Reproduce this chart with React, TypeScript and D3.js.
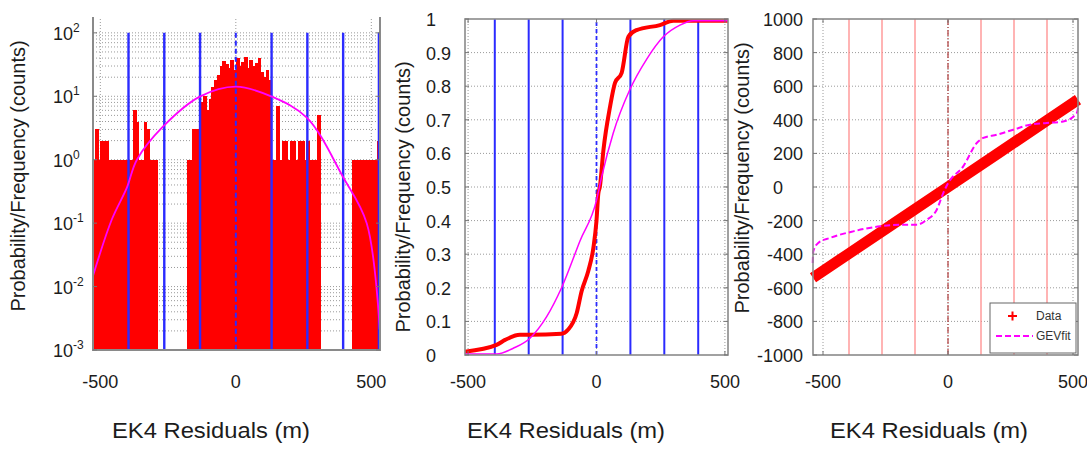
import React, { useRef, useEffect } from 'react';
import * as d3 from 'd3';

const W = 1087;
const H = 452;
const FONT = '"Liberation Sans", Arial, sans-serif';

// histogram of residuals, bins of 10 m starting at -530
const histStart = -530;
const histStep = 10;
const histCounts = [
	1, 3, 1, 2, 2, 2, 1, 1, 1, 1,
	1, 1, 1, 1, 1, 6, 4, 1, 1, 4,
	3, 1, 1, 1, 0, 0, 0, 0, 0, 0,
	0, 0, 0, 0, 0, 1, 1, 3, 3, 2,
	8, 10, 6, 9, 14, 18, 22, 30, 36, 32,
	28, 38, 26, 40, 30, 35, 42, 28, 38, 30,
	33, 40, 24, 20, 26, 18, 1, 1, 7, 1,
	2, 2, 1, 2, 2, 1, 2, 2, 1, 2,
	1, 1, 1, 5, 0, 0, 0, 0, 0, 0,
	0, 0, 0, 0, 0, 0, 1, 1, 1, 1,
	1, 1, 1, 1, 1, 2,
];

// fitted pdf (panel 1)
const pdfX = [-528, -458, -402, -365, -269, -133, 0, 133, 262, 395, 483, 531];
const pdfY = [0.0143, 0.113, 0.362, 1, 3.31, 9.86, 14.2, 9.86, 4.6, 0.54, 0.1, 0.0021];

// empirical cdf (panel 2)
const cdfX = [-512, -389, -356, -298, -259, -136, -111, -77, -58, -32, -12, 0, 7, 13, 27, 53, 72, 98, 124, 156, 247, 299, 512];
const cdfY = [0.01, 0.03, 0.045, 0.06, 0.06, 0.063, 0.075, 0.125, 0.19, 0.25, 0.32, 0.4, 0.48, 0.5, 0.61, 0.74, 0.81, 0.84, 0.947, 0.967, 0.982, 0.995, 0.995];

// fitted cdf (panel 2)
const gevCdfX = [-512, -389, -324, -259, -194, -136, -64, 0, 20, 65, 130, 195, 260, 325, 377, 512];
const gevCdfY = [0.003, 0.003, 0.02, 0.05, 0.114, 0.2, 0.34, 0.46, 0.53, 0.66, 0.79, 0.88, 0.947, 0.982, 0.995, 0.995];

// quantile plot (panel 3)
const qqX = [-540, -400, -200, 0, 200, 400, 520];
const qqY = [-540, -400, -200, 0, 200, 400, 520];
const gevQX = [-541, -539, -519, -472, -379, -272, -179, -125, -85, -45, -19, 1, 61, 115, 141, 195, 261, 328, 395, 461, 515, 521];
const gevQY = [-452, -383, -333, -303, -264, -234, -224, -224, -195, -135, -36, 24, 123, 262, 292, 311, 341, 371, 381, 390, 440, 480];

// sigma marker lines
const sigmaLines = [-396, -264, -132, 132, 264, 396];
const xTicks = [-500, 0, 500];
const pdfTicks = [-3, -2, -1, 0, 1, 2];
const cdfTicks = d3.range(0, 11).map((i) => i / 10);
const qTicks = d3.range(-1000, 1001, 200);

const xTitle = 'EK4 Residuals (m)';
const yTitle = 'Probability/Frequency (counts)';
const legendItems = ['Data', 'GEVfit'];

const GRID = '#9a9a9a';
const FRAME = '#8a8a8a';
const BLUE = '#2b2bff';
const TXT = '#1c1c1c';

type Sel = d3.Selection<SVGSVGElement, unknown, null, undefined>;

const hGrid = (g, vals, x, y) => {
	g.append('g').selectAll('line').data(vals).join('line')
		.attr('x1', x.range()[0]).attr('x2', x.range()[1])
		.attr('y1', (d) => y(d)).attr('y2', (d) => y(d))
		.attr('stroke', GRID).attr('stroke-width', 1).attr('stroke-dasharray', '1 2');
};

const vGrid = (g, vals, x, y) => {
	g.append('g').selectAll('line').data(vals).join('line')
		.attr('x1', (d) => x(d)).attr('x2', (d) => x(d))
		.attr('y1', y.range()[0]).attr('y2', y.range()[1])
		.attr('stroke', GRID).attr('stroke-width', 1).attr('stroke-dasharray', '1 2');
};

// small inward tick marks on the box
const boxTicks = (g, xs, ys, x, y) => {
	const [l, r] = x.range();
	const [b, t] = y.range();
	const p = [];
	ys.forEach((d) => { p.push(`M${ l },${ y(d) }h4`, `M${ r },${ y(d) }h-4`); });
	xs.forEach((d) => { p.push(`M${ x(d) },${ b }v-4`, `M${ x(d) },${ t }v4`); });
	g.append('path').attr('d', p.join('')).attr('stroke', '#777').attr('stroke-width', 1);
};

const labels = (g, x, titleX, titleY, yLabelX, yLabelY) => {
	g.append('g').selectAll('text').data(xTicks).join('text')
		.attr('x', (d) => x(d)).attr('y', 388)
		.attr('text-anchor', 'middle').attr('font-size', 18)
		.attr('font-family', FONT).attr('fill', TXT)
		.text((d) => d);
	g.append('text').attr('x', titleX).attr('y', titleY)
		.attr('text-anchor', 'middle').attr('font-size', 22)
		.attr('textLength', 198).attr('lengthAdjust', 'spacingAndGlyphs')
		.attr('font-family', FONT).attr('fill', TXT)
		.text(xTitle);
	g.append('text')
		.attr('transform', `translate(${ yLabelX },${ yLabelY }) rotate(-90)`)
		.attr('text-anchor', 'middle').attr('font-size', 20)
		.attr('font-family', FONT).attr('fill', TXT)
		.text(yTitle);
};

const drawHist = (svg: Sel) => {
	const x = d3.scaleLinear().domain([-527, 532]).range([93, 380]);
	const y = d3.scaleLog().domain([1e-3, 10 ** 2.25]).range([350, 17]);
	const g = svg.append('g');
	const yTop = y(100);

	const minor = [];
	for (let k = -3; k <= 1; k++) {
		for (let m = 1; m <= 9; m++) minor.push(m * 10 ** k);
	}
	minor.push(100);
	g.append('g').selectAll('line').data(minor).join('line')
		.attr('x1', x.range()[0]).attr('x2', x.range()[1])
		.attr('y1', (d) => y(d)).attr('y2', (d) => y(d))
		.attr('stroke', GRID).attr('stroke-dasharray', '1 2');
	vGrid(g, xTicks, x, y);

	const bins = histCounts
		.map((c, i) => ({ x0: histStart + i * histStep, c }))
		.filter((d) => d.c > 0);
	g.append('g').attr('shape-rendering', 'crispEdges')
		.selectAll('rect').data(bins).join('rect')
		.attr('x', (d) => x(d.x0))
		.attr('width', (d) => x(d.x0 + histStep) - x(d.x0) + 1)
		.attr('y', (d) => y(d.c))
		.attr('height', (d) => y(1e-3) - y(d.c))
		.attr('fill', '#ff0000');

	g.append('g').selectAll('line').data([...sigmaLines, 528]).join('line')
		.attr('x1', (d) => x(d)).attr('x2', (d) => x(d))
		.attr('y1', yTop).attr('y2', y(1e-3))
		.attr('stroke', BLUE).attr('stroke-width', 2.4);
	g.append('line')
		.attr('x1', x(0)).attr('x2', x(0)).attr('y1', yTop).attr('y2', y(1e-3))
		.attr('stroke', BLUE).attr('stroke-width', 2).attr('stroke-dasharray', '5 3');

	const pts = pdfX.map((v, i) => [x(v), y(pdfY[i])] as [number, number]);
	g.append('path').attr('d', d3.line().curve(d3.curveCatmullRom)(pts))
		.attr('fill', 'none').attr('stroke', '#ff00ff').attr('stroke-width', 1.8);

	const [l, r] = x.range();
	const b = y(1e-3);
	g.append('path').attr('d', `M${ l },${ y.range()[1] }V${ b }H${ r }V${ y.range()[1] }`)
		.attr('fill', 'none').attr('stroke', FRAME).attr('stroke-width', 2);
	boxTicks(g, [], pdfTicks.map((d) => 10 ** d), { range: () => [l, r] }, y);

	const tk = g.append('g').selectAll('text').data(pdfTicks).join('text')
		.attr('x', 53).attr('y', (d) => y(10 ** d) + 7)
		.attr('font-size', 18).attr('font-family', FONT).attr('fill', TXT);
	tk.append('tspan').text('10');
	tk.append('tspan').attr('dy', -8).attr('font-size', 12).text((d) => d);

	labels(g, x, 211, 438, 25, 176);
};

const drawCdf = (svg: Sel) => {
	const x = d3.scaleLinear().domain([-512, 512]).range([465, 728]);
	const y = d3.scaleLinear().domain([0, 1]).range([355, 19]);
	const g = svg.append('g');

	hGrid(g, cdfTicks.slice(1, 10), x, y);
	vGrid(g, xTicks, x, y);

	g.append('g').selectAll('line').data(sigmaLines).join('line')
		.attr('x1', (d) => x(d)).attr('x2', (d) => x(d))
		.attr('y1', y(0)).attr('y2', y(1))
		.attr('stroke', BLUE).attr('stroke-width', 2);
	g.append('line')
		.attr('x1', x(0)).attr('x2', x(0)).attr('y1', y(0)).attr('y2', y(1))
		.attr('stroke', BLUE).attr('stroke-width', 1.8).attr('stroke-dasharray', '4 3');

	const line = d3.line().curve(d3.curveMonotoneX);
	g.append('path')
		.attr('d', line(cdfX.map((v, i) => [x(v), y(cdfY[i])] as [number, number])))
		.attr('fill', 'none').attr('stroke', '#ff0000').attr('stroke-width', 4);
	g.append('path')
		.attr('d', line(gevCdfX.map((v, i) => [x(v), y(gevCdfY[i])] as [number, number])))
		.attr('fill', 'none').attr('stroke', '#ff00ff').attr('stroke-width', 1.5);

	g.append('rect').attr('x', x.range()[0]).attr('y', y.range()[1])
		.attr('width', x.range()[1] - x.range()[0]).attr('height', y.range()[0] - y.range()[1])
		.attr('fill', 'none').attr('stroke', FRAME).attr('stroke-width', 1.6);
	boxTicks(g, xTicks, cdfTicks, x, y);

	g.append('g').selectAll('text').data(cdfTicks).join('text')
		.attr('x', 426).attr('y', (d) => y(d) + 7)
		.attr('font-size', 18).attr('font-family', FONT).attr('fill', TXT)
		.text((d) => d3.format('~g')(d));

	labels(g, x, 566, 438, 410, 197);
};

const drawQq = (svg: Sel) => {
	const x = d3.scaleLinear().domain([-540, 520]).range([813, 1078]);
	const y = d3.scaleLinear().domain([-1000, 1000]).range([355, 19]);
	const g = svg.append('g');

	hGrid(g, qTicks.slice(1, 10), x, y);
	vGrid(g, xTicks, x, y);

	g.append('g').selectAll('line').data(sigmaLines).join('line')
		.attr('x1', (d) => x(d)).attr('x2', (d) => x(d))
		.attr('y1', y(-1000)).attr('y2', y(1000))
		.attr('stroke', '#ff8c8c').attr('stroke-width', 1.3);
	g.append('line')
		.attr('x1', x(0)).attr('x2', x(0)).attr('y1', y(-1000)).attr('y2', y(1000))
		.attr('stroke', '#b03a3a').attr('stroke-width', 1.2).attr('stroke-dasharray', '6 2 1 2');

	const line = d3.line();
	g.append('path')
		.attr('d', line(qqX.map((v, i) => [x(v), y(qqY[i])] as [number, number])))
		.attr('fill', 'none').attr('stroke', '#ff0000').attr('stroke-width', 11);
	g.append('path')
		.attr('d', d3.line().curve(d3.curveMonotoneX)(gevQX.map((v, i) => [x(v), y(gevQY[i])] as [number, number])))
		.attr('fill', 'none').attr('stroke', '#ff00ff').attr('stroke-width', 2)
		.attr('stroke-dasharray', '6 3');

	g.append('rect').attr('x', x.range()[0]).attr('y', y.range()[1])
		.attr('width', x.range()[1] - x.range()[0]).attr('height', y.range()[0] - y.range()[1])
		.attr('fill', 'none').attr('stroke', FRAME).attr('stroke-width', 1.6);
	boxTicks(g, xTicks, qTicks, x, y);

	g.append('g').selectAll('text').data(qTicks).join('text')
		.attr('x', (d) => (d === 0 ? 783 : 803)).attr('y', (d) => y(d) + 7)
		.attr('text-anchor', 'end')
		.attr('font-size', 18).attr('font-family', FONT).attr('fill', TXT)
		.text((d) => d);

	// legend
	const lg = g.append('g').attr('transform', `translate(${ x.range()[1] - 88 },${ y.range()[0] - 52 })`);
	lg.append('rect').attr('x', 0).attr('y', 0).attr('width', 86).attr('height', 50)
		.attr('fill', '#fff').attr('stroke', '#666').attr('stroke-width', 1);
	lg.append('path').attr('d', 'M18,13h9M22.5,8.5v9')
		.attr('stroke', '#ff0000').attr('stroke-width', 2);
	lg.append('line').attr('x1', 6).attr('x2', 43).attr('y1', 33).attr('y2', 33)
		.attr('stroke', '#ff00ff').attr('stroke-width', 2).attr('stroke-dasharray', '6 3');
	lg.selectAll('text.lt').data(legendItems).join('text')
		.attr('x', 46).attr('y', (d, i) => 17 + i * 20)
		.attr('font-size', 12).attr('font-family', FONT).attr('fill', '#333')
		.text((d) => d);

	labels(g, x, 929, 438, 749, 178);
};

const App = () => {
	const ref = useRef<SVGSVGElement>(null);

	useEffect(() => {
		const svg = d3.select(ref.current);
		svg.selectAll('*').remove();
		drawHist(svg);
		drawCdf(svg);
		drawQq(svg);
	}, []);

	return (
		<svg ref={ ref } width={ W } height={ H }
			style={ { position: 'absolute', left: 0, top: 0, background: '#fff' } } />
	);
};

export default App;
